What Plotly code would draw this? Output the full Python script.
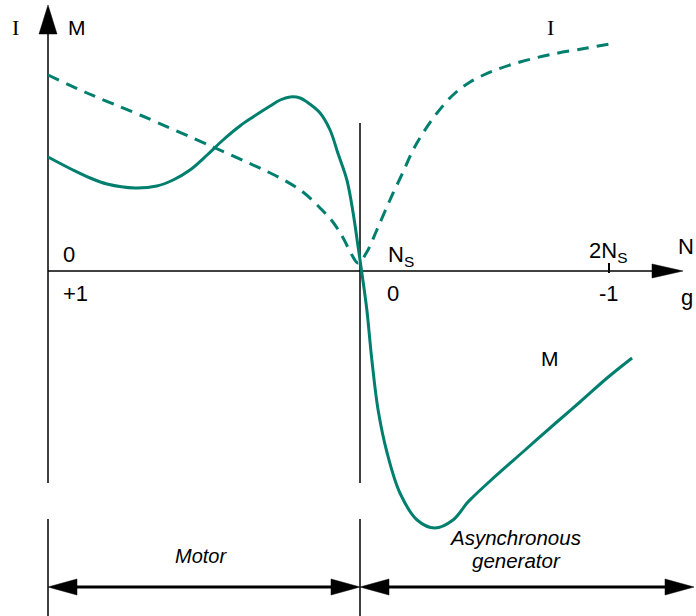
import plotly.graph_objects as go

W, H = 696, 616

# ---- data (speed as N/Ns, values in arbitrary units) ----
speed_M = [0.000, 0.080, 0.135, 0.189, 0.279, 0.349, 0.401, 0.455, 0.510, 0.561,
           0.615, 0.657, 0.712, 0.744, 0.776, 0.808, 0.830, 0.872, 0.904, 0.929,
           0.958, 0.978, 0.994, 1.006, 1.022, 1.038, 1.058, 1.087, 1.128, 1.183,
           1.240, 1.298, 1.343, 1.362, 1.417, 1.522, 1.631, 1.705, 1.792, 1.872]
torque_M = [1.14, 1.01, 0.93, 0.87, 0.83, 0.85, 0.91, 1.01, 1.16, 1.31,
            1.45, 1.54, 1.65, 1.71, 1.74, 1.73, 1.69, 1.58, 1.41, 1.18,
            0.91, 0.58, 0.24, -0.02, -0.39, -0.89, -1.39, -1.82, -2.22, -2.49,
            -2.57, -2.49, -2.32, -2.26, -2.10, -1.81, -1.51, -1.31, -1.07, -0.87]

speed_I = [0.000, 0.125, 0.295, 0.529, 0.657, 0.744, 0.817, 0.872, 0.913, 0.946,
           0.974, 0.994, 1.022, 1.054, 1.096, 1.138, 1.170, 1.202, 1.247, 1.298,
           1.353, 1.426, 1.513, 1.619, 1.728, 1.801]
current_I = [1.96, 1.78, 1.56, 1.24, 1.06, 0.93, 0.79, 0.63, 0.49, 0.33,
             0.16, 0.08, 0.19, 0.41, 0.71, 0.99, 1.21, 1.38, 1.58, 1.76,
             1.89, 2.00, 2.09, 2.17, 2.23, 2.27]

top_labels = ["0", "N<sub>S</sub>", "2N<sub>S</sub>"]
slip_labels = ["+1", "0", "-1"]

TEAL = "#007F6E"
SANS = "Liberation Sans, Arial, sans-serif"
SERIF = "Liberation Serif, Times New Roman, serif"

# page-pixel helpers for decoration (paper coords)
def px(x):
    return x / W

def py(y):
    return 1 - y / H

fig = go.Figure()
fig.add_trace(go.Scatter(x=speed_I, y=current_I, mode="lines",
                         line=dict(color=TEAL, width=3, dash="12px,8px", shape="spline", smoothing=1.0),
                         hoverinfo="skip"))
fig.add_trace(go.Scatter(x=speed_M, y=torque_M, mode="lines",
                         line=dict(color=TEAL, width=3, shape="spline", smoothing=1.0),
                         hoverinfo="skip"))

shapes = []
def line(x0, y0, x1, y1, w=1.5):
    shapes.append(dict(type="line", xref="paper", yref="paper",
                       x0=px(x0), y0=py(y0), x1=px(x1), y1=py(y1),
                       line=dict(color="black", width=w), layer="below"))

def tri(pts):
    d = "M " + " L ".join(f"{px(a)},{py(b)}" for a, b in pts) + " Z"
    shapes.append(dict(type="path", xref="paper", yref="paper", path=d,
                       fillcolor="black", line=dict(color="black", width=0.5)))

# vertical axis with arrow
line(48, 30, 48, 483)
tri([(48, 5), (39, 34), (57, 34)])
line(48, 519, 48, 616)
# horizontal axis with arrow
line(48, 271, 656, 271)
tri([(683, 271), (652, 264), (652, 278)])
# tick at 2Ns
line(609, 263, 609, 273, w=2)
# Ns vertical line
line(360, 123, 360, 483)
line(360, 519, 360, 616)
# bottom double arrows
line(70, 587, 340, 587, w=3)
tri([(48, 587), (77, 579), (77, 595)])
tri([(360, 587), (331, 579), (331, 595)])
line(380, 587, 670, 587, w=3)
tri([(360, 587), (389, 579), (389, 595)])
tri([(694, 587), (665, 579), (665, 595)])

annotations = []
def text(t, x, y, size=20, family=SANS, xanchor="center", italic=False):
    if italic:
        t = "<i>" + t + "</i>"
    annotations.append(dict(text=t, x=px(x), y=py(y), xref="paper", yref="paper",
                            showarrow=False, xanchor=xanchor, yanchor="middle",
                            font=dict(size=size, family=family, color="black")))

text("I", 15, 28, size=22, family=SERIF)
text("M", 77, 28, size=21)
text("I", 550, 28, size=22, family=SERIF)
text("M", 550, 358, size=21)
text(top_labels[0], 69, 254, size=22)
text(top_labels[1], 386, 256, size=22, xanchor="left")
text(top_labels[2], 587, 252, size=22, xanchor="left")
text("N", 686, 246, size=22)
text(slip_labels[0], 75, 293, size=22)
text(slip_labels[1], 393, 293, size=22)
text(slip_labels[2], 609, 293, size=22)
text("g", 687, 297, size=22)
text("Motor", 201, 556, size=20, italic=True)
text("Asynchronous", 515, 537, size=20.5, italic=True)
text("generator", 516, 560, size=20.5, italic=True)

fig.update_layout(
    width=W, height=H, autosize=False,
    margin=dict(l=0, r=0, t=0, b=0),
    paper_bgcolor="white", plot_bgcolor="white",
    showlegend=False,
    xaxis=dict(range=[-48 / 312, 648 / 312], visible=False, fixedrange=True),
    yaxis=dict(range=[(271 - 616) / 100, 271 / 100], visible=False, fixedrange=True),
    shapes=shapes, annotations=annotations,
)
fig.write_html("out.html", config={"displayModeBar": False},
               post_script="document.body.style.margin='0';document.body.style.overflow='hidden';")
